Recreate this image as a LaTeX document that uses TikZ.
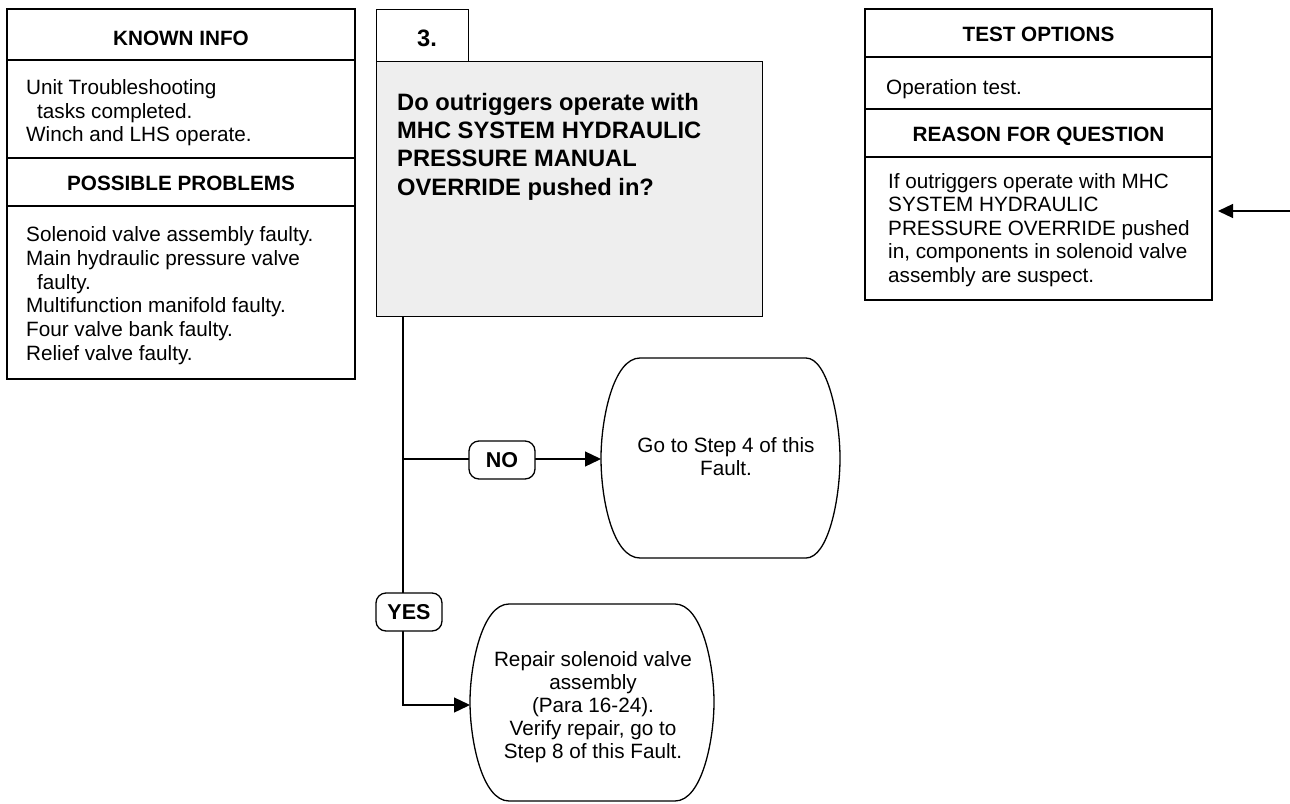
\documentclass[tikz,border=0pt]{standalone}
\usepackage{fontspec}
\setmainfont{Liberation Sans}
\usetikzlibrary{arrows.meta}
\definecolor{askfill}{RGB}{238,238,238}
\begin{document}
\begin{tikzpicture}[x=1pt,y=-1pt,
  boxline/.style={draw=black, line width=1.3pt},
  body/.style={font=\fontsize{20.7}{24}\selectfont, inner sep=0pt, anchor=base west},
  ctr/.style={font=\fontsize{20.7}{24}\selectfont, inner sep=0pt, anchor=base},
  head/.style={font=\bfseries\fontsize{20.7}{24}\selectfont, inner sep=0pt, anchor=base},
  ask/.style={font=\bfseries\fontsize{23.7}{28}\selectfont, inner sep=0pt, anchor=base west},
  choice/.style={draw=black, line width=1.3pt, fill=white, rounded corners=10pt,
    minimum width=66pt, minimum height=38pt, inner sep=0pt,
    font=\bfseries\fontsize{21.5}{24}\selectfont},
  flow/.style={draw=black, line width=1.3pt},
  arrowhd/.style={-{Triangle[length=16pt,width=15pt]}},
  arrowsm/.style={-{Triangle[length=15pt,width=14pt]}}
]
\fill[white] (0,0) rectangle (1290,803);
\useasboundingbox (0,0) rectangle (1290,803);

% ---- left panel: known info / possible problems
\draw[boxline] (7,9) rectangle (355,379);
\draw[boxline] (7,60) -- (355,60);
\draw[boxline] (7,158) -- (355,158);
\draw[boxline] (7,206) -- (355,206);
\node[head] (kih) at (181,45) {KNOWN INFO};
\node[body] (ki1) at (26,94) {Unit Troubleshooting};
\node[body] (ki2) at (37,118) {tasks completed.};
\node[body] (ki3) at (26,141.5) {Winch and LHS operate.};
\node[head] (pph) at (181,190) {POSSIBLE PROBLEMS};
\node[body] (pp1) at (26,241.7) {Solenoid valve assembly faulty.};
\node[body] (pp2) at (26,265.3) {Main hydraulic pressure valve};
\node[body] (pp3) at (37,289) {faulty.};
\node[body] (pp4) at (26,312.7) {Multifunction manifold faulty.};
\node[body] (pp5) at (26,336.3) {Four valve bank faulty.};
\node[body] (pp6) at (26,360) {Relief valve faulty.};

% ---- right panel: test options / reason for question
\draw[boxline] (865,9) rectangle (1212,300);
\draw[boxline] (865,57) -- (1212,57);
\draw[boxline] (865,109) -- (1212,109);
\draw[boxline] (865,157) -- (1212,157);
\node[head] (toh) at (1038.5,41.7) {TEST OPTIONS};
\node[body] (to1) at (886,94) {Operation test.};
\node[head] (rqh) at (1038.5,141.7) {REASON FOR QUESTION};
\node[body] (rq1) at (888,188.3) {If outriggers operate with MHC};
\node[body] (rq2) at (888,211.7) {SYSTEM HYDRAULIC};
\node[body] (rq3) at (888,235) {PRESSURE OVERRIDE pushed};
\node[body] (rq4) at (888,258.5) {in, components in solenoid valve};
\node[body] (rq5) at (888,282) {assembly are suspect.};
\coordinate (rqin) at (1218,211);
\coordinate (edge) at (1290,211);
\draw[flow, arrowsm] (edge) -- (rqin);

% ---- step number and question
\node[boxline, minimum width=92pt, minimum height=52pt, anchor=north west, inner sep=0pt] (stepno) at (376,9) {};
\node[font=\bfseries\fontsize{23.7}{28}\selectfont, inner sep=0pt, anchor=base] (sn) at (427,46.7) {3.};
\node[boxline, fill=askfill, minimum width=386pt, minimum height=255pt, anchor=north west, inner sep=0pt] (q) at (376,61) {};
\node[ask] (q1) at (397,110) {Do outriggers operate with};
\node[ask] (q2) at (397,138.3) {MHC SYSTEM HYDRAULIC};
\node[ask] (q3) at (397,166.7) {PRESSURE MANUAL};
\node[ask] (q4) at (397,195) {OVERRIDE pushed in?};

% ---- outcome terminals
\draw[boxline, fill=white] (640,358) -- (806,358)
  .. controls (828,358) and (840,420) .. (840,458)
  .. controls (840,500) and (828,558) .. (806,558) -- (640,558)
  .. controls (613,558) and (601,500) .. (601,458)
  .. controls (601,420) and (613,358) .. (640,358) -- cycle;
\coordinate (noT) at (601,459);
\node[ctr] (no1) at (726,452.7) {Go to Step 4 of this};
\node[ctr] (no2) at (726,475) {Fault.};

\draw[boxline, fill=white] (509,604) -- (675,604)
  .. controls (702,604) and (714,665) .. (714,702)
  .. controls (714,740) and (702,801) .. (675,801) -- (509,801)
  .. controls (482,801) and (470,740) .. (470,702)
  .. controls (470,665) and (482,604) .. (509,604) -- cycle;
\coordinate (yesT) at (470,705);
\node[ctr] (ye1) at (593,666) {Repair solenoid valve};
\node[ctr] (ye2) at (593,689) {assembly};
\node[ctr] (ye3) at (593,712) {(Para 16-24).};
\node[ctr] (ye4) at (593,735.5) {Verify repair, go to};
\node[ctr] (ye5) at (593,758.5) {Step 8 of this Fault.};

% ---- branch connectors
\coordinate (qout) at ([xshift=27pt]q.south west);
\draw[flow, arrowhd] (qout) |- (yesT);
\draw[flow, arrowhd] (qout |- noT) -- (noT);
\node[choice] (no) at (502,460) {NO};
\node[choice] (yes) at (409,612) {YES};
\end{tikzpicture}
\end{document}
